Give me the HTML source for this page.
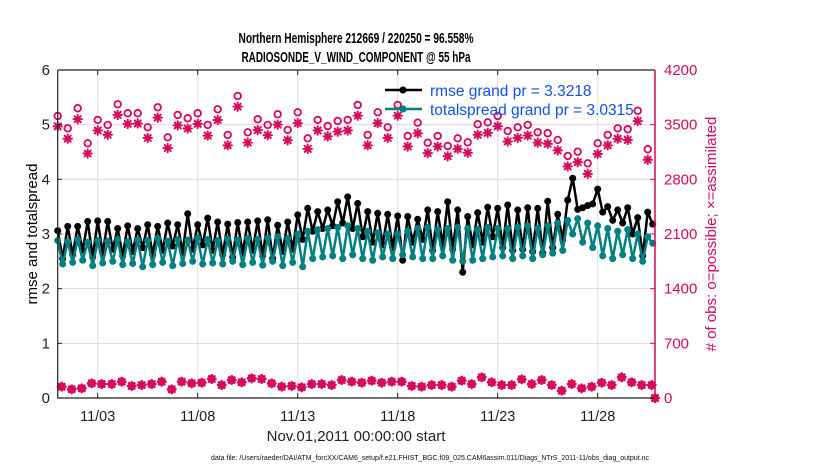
<!DOCTYPE html>
<html><head><meta charset="utf-8"><style>
body{margin:0;background:#fff}
svg text{font-family:"Liberation Sans",sans-serif}
</style></head><body>
<svg id="chart" width="830" height="470" viewBox="0 0 830 470" xmlns="http://www.w3.org/2000/svg">
<rect width="830" height="470" fill="#fff"/>
<g id="grid"></g>
<g id="series"></g>
<g id="axes"></g>
<text x="356" y="43" text-anchor="middle" font-size="14.5" font-weight="bold" textLength="235" lengthAdjust="spacingAndGlyphs">Northern Hemisphere 212669 / 220250 = 96.558%</text>
<text x="356" y="62" text-anchor="middle" font-size="14.5" font-weight="bold" textLength="229" lengthAdjust="spacingAndGlyphs">RADIOSONDE_V_WIND_COMPONENT @ 55 hPa</text>
<text transform="translate(37,234) rotate(-90)" text-anchor="middle" font-size="15">rmse and totalspread</text>
<text transform="translate(716,234) rotate(-90)" text-anchor="middle" font-size="15" fill="#d6095a">#  of obs: o=possible; ×=assimilated</text>
<text x="356" y="441" text-anchor="middle" font-size="15" fill="#222">Nov.01,2011 00:00:00 start</text>
<text x="430" y="460" text-anchor="middle" font-size="7" fill="#111">data file: /Users/raeder/DAI/ATM_forcXX/CAM6_setup/f.e21.FHIST_BGC.f09_025.CAM6assim.011/Diags_NTrS_2011-11/obs_diag_output.nc</text>
<g>
<line x1="385" y1="90" x2="422" y2="90" stroke="#000" stroke-width="2.5"/>
<circle cx="403" cy="90" r="3.6" fill="#000"/>
<text x="430" y="96" font-size="15.5" fill="#1450f0">rmse grand pr = 3.3218</text>
<line x1="385" y1="109" x2="422" y2="109" stroke="#008080" stroke-width="2.5"/>
<circle cx="403" cy="109" r="3.6" fill="#008080"/>
<text x="430" y="115" font-size="15.5" fill="#1450f0">totalspread grand pr = 3.0315</text>
</g>
</svg>
<script>
const xTickLabels=["11/03","11/08","11/13","11/18","11/23","11/28"];
const xTickDays=[2,7,12,17,22,27];
const yTicks=[0,1,2,3,4,5,6];
const y2Ticks=[0,700,1400,2100,2800,3500,4200];
const rmseHigh=[3.06,3.14,3.14,3.23,3.24,3.23,3.10,3.15,3.10,3.17,3.14,3.20,3.17,3.37,3.17,
3.29,3.22,3.18,3.21,3.22,3.24,3.26,3.16,3.22,3.35,3.47,3.41,3.44,3.59,3.68,
3.56,3.41,3.38,3.36,3.33,3.32,3.27,3.44,3.41,3.59,3.44,3.32,3.39,3.49,3.47,
3.53,3.44,3.48,3.47,3.60,3.36,3.62,3.45,3.52,3.82,3.50,3.44,3.48,3.30,3.40];
const rmseLow=[2.55,2.62,2.70,2.58,2.65,2.72,2.60,2.68,2.75,2.62,2.70,2.78,2.66,2.72,2.80,
2.70,2.62,2.58,2.65,2.70,2.60,2.55,2.68,2.72,2.90,3.05,3.10,3.15,3.20,3.10,
2.95,2.85,2.80,2.75,2.52,2.85,2.90,2.70,2.80,2.72,2.30,2.80,2.85,2.95,2.75,
2.70,2.72,2.68,2.65,2.75,2.90,4.02,3.48,3.55,3.40,3.25,3.20,3.00,2.60,3.18];
const spreadHigh=[2.88,2.86,2.90,2.85,2.88,2.87,2.90,2.86,2.89,2.88,2.92,2.87,2.90,2.89,2.93,
2.90,2.88,2.91,2.89,2.92,2.90,2.93,2.95,2.92,3.00,3.05,3.08,3.10,3.12,3.15,
3.10,3.05,3.02,3.00,3.00,3.05,3.10,3.12,3.08,3.10,3.12,3.10,3.08,3.12,3.10,
3.10,3.12,3.15,3.10,3.15,3.20,3.25,3.28,3.20,3.15,3.10,3.05,3.08,3.00,2.95];
const spreadLow=[2.45,2.48,2.52,2.42,2.47,2.50,2.44,2.46,2.40,2.44,2.48,2.42,2.46,2.50,2.45,
2.47,2.45,2.50,2.44,2.48,2.43,2.50,2.42,2.48,2.40,2.55,2.58,2.60,2.55,2.62,
2.55,2.52,2.58,2.55,2.62,2.58,2.55,2.55,2.60,2.52,2.50,2.52,2.55,2.58,2.60,
2.55,2.60,2.55,2.62,2.65,2.70,3.00,2.85,2.75,2.60,2.55,2.62,2.55,2.50,2.83];
const possible=[3611,3453,3710,3261,3560,3496,3761,3646,3646,3466,3722,3338,3624,3582,3646,3496,3697,3368,3867,3402,3569,3496,3633,3432,3658,3325,3560,3483,3547,3560,
3752,3368,3658,3466,3752,3355,3525,3269,3355,3227,3325,3274,3505,3530,3611,3419,3466,3496,3402,3390,3304,3099,3154,3005,3261,3368,3453,3441,3678,3185];
const assimilated=[3478,3320,3570,3130,3425,3370,3625,3510,3515,3330,3590,3200,3490,3450,3510,3360,3560,3235,3730,3270,3430,3365,3500,3300,3520,3190,3425,3350,3410,3425,
3615,3235,3520,3330,3615,3220,3390,3135,3220,3095,3190,3140,3370,3395,3480,3285,3330,3360,3270,3255,3170,2965,3020,2870,3125,3235,3320,3305,3545,3050];
const lowCount=[145,111,124,188,179,179,209,154,166,179,209,111,209,188,196,243,166,230,201,252,243,188,145,154,137,179,179,166,230,209,
196,222,196,209,209,154,145,166,166,145,222,179,265,201,166,166,239,179,230,166,94,179,124,145,196,166,265,201,166,166,0];

const X0=57.7,PXD=20,Y0=398,PXU=54.67,XMAX=655;
const xs=d=>Math.min(X0+d*PXD,XMAX);
const ys=v=>Y0-v*PXU;
const ys2=c=>Y0-c*PXU/700;
const NS="http://www.w3.org/2000/svg";
function mk(tag,attrs,parent){const e=document.createElementNS(NS,tag);for(const k in attrs)e.setAttribute(k,attrs[k]);parent.appendChild(e);return e;}
const grid=document.getElementById('grid'),series=document.getElementById('series'),axes=document.getElementById('axes');

xTickDays.forEach((d,i)=>{
 const g=mk('line',{x1:xs(d),x2:xs(d),y1:70,y2:398,stroke:'#dcdcdc','stroke-width':1},grid);
 
 
 mk('line',{x1:xs(d),x2:xs(d),y1:398,y2:393,stroke:'#222'},axes);
 mk('line',{x1:xs(d),x2:xs(d),y1:70,y2:75,stroke:'#222'},axes);
 const t=mk('text',{x:xs(d),y:421,'text-anchor':'middle','font-size':14.5,fill:'#222'},axes);
 t.textContent=xTickLabels[i];
 
 
});
yTicks.forEach(v=>{
 if(v>0&&v<6){const g=mk('line',{x1:57.7,x2:655,y1:ys(v),y2:ys(v),stroke:'#f6d2de','stroke-width':1},grid);
 
 }
 mk('line',{x1:57.7,x2:62,y1:ys(v),y2:ys(v),stroke:'#222'},axes);
 const t=mk('text',{x:50,y:ys(v)+5,'text-anchor':'end','font-size':15,fill:'#222'},axes);
 t.textContent=v;
 
 
});
y2Ticks.forEach(c=>{
 mk('line',{x1:650,x2:655,y1:ys2(c),y2:ys2(c),stroke:'#d6095a'},axes);
 const t=mk('text',{x:664,y:ys2(c)+5,'font-size':15,fill:'#d6095a'},axes);
 t.textContent=c;
 
 
});
mk('line',{x1:57.7,x2:57.7,y1:70,y2:398,stroke:'#222','stroke-width':1.2},axes);
mk('line',{x1:57.7,x2:655,y1:398,y2:398,stroke:'#222','stroke-width':1.2},axes);
mk('line',{x1:57.7,x2:655,y1:70,y2:70,stroke:'#222','stroke-width':1.2},axes);
mk('line',{x1:655,x2:655,y1:70,y2:398,stroke:'#d6095a','stroke-width':1.5},axes);

function star(x,y,r,sw,name){
 const g=mk('g',{stroke:'#d6095a','stroke-width':sw,'stroke-linecap':'round'},series);
 
 
 mk('line',{x1:x-r,x2:x+r,y1:y,y2:y},g);mk('line',{x1:x,x2:x,y1:y-r,y2:y+r},g);
 const q=r*0.72;mk('line',{x1:x-q,x2:x+q,y1:y-q,y2:y+q},g);mk('line',{x1:x-q,x2:x+q,y1:y+q,y2:y-q},g);
}
possible.forEach((c,i)=>{
 const e=mk('circle',{cx:xs(i*0.5),cy:ys2(c),r:3.3,fill:'none',stroke:'#d6095a','stroke-width':1.8},series);
 
 
});
assimilated.forEach((c,i)=>star(xs(i*0.5),ys2(c),4.2,2,'assimilated-obs-marker'));
lowCount.forEach((c,i)=>star(xs(i*0.5+0.2),ys2(c),3.6,2.8,'used-obs-marker'));

function drawSeries(hi,lo,color,name){
 const vals=[];hi.forEach((h,k)=>{vals.push(h);vals.push(lo[k]);});
 const pts=vals.map((v,i)=>xs(i*0.25).toFixed(1)+','+ys(v).toFixed(1)).join(' ');
 const l=mk('polyline',{points:pts,fill:'none',stroke:color,'stroke-width':2.5,'stroke-linejoin':'round'},series);
 
 
 vals.forEach((v,i)=>{
  const c=mk('circle',{cx:xs(i*0.25),cy:ys(v),r:3.5,fill:color},series);
  
  
 });
}
drawSeries(rmseHigh,rmseLow,'#000','rmse');
drawSeries(spreadHigh,spreadLow,'#008080','totalspread');
</script>
</body></html>
